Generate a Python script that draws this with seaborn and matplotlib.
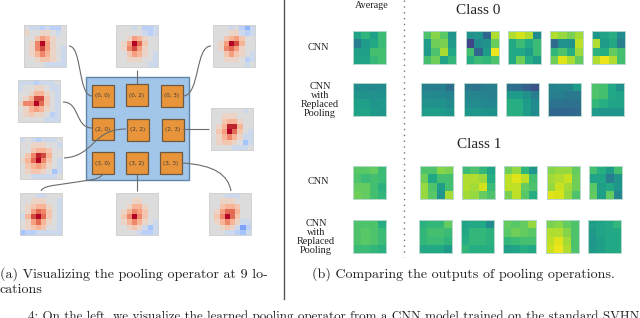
import matplotlib
matplotlib.use('Agg')
import matplotlib.pyplot as plt
from matplotlib.patches import PathPatch, Rectangle
from matplotlib.path import Path
import seaborn as sns

W, H = 640, 318

# pooling operator maps, 8x8, scale -10..10
op_0 = [[0,-1,-1,-2,-1,-2,-2,0],[1,0,0,1,1,0,-1,0],[0,0,2,4,3,1,0,0],[0,1,5,10,4,1,0,0],
        [0,1,5,7,4,1,0,-1],[0,1,3,5,3,1,0,-1],[0,0,1,2,2,1,0,-1],[0,0,0,0,-1,-1,-1,-1]]
op_1 = [[0,0,0,-1,0,-2,-2,-1],[0,0,0,0,0,-1,-2,-1],[0,0,1,4,3,1,0,0],[0,1,4,10,6,2,0,0],
        [0,1,5,7,4,1,0,0],[0,0,2,4,3,1,0,-1],[0,0,1,1,1,0,0,-1],[0,0,0,0,0,0,-1,-1]]
op_2 = [[0,0,0,-1,0,-2,-4,-1],[0,0,0,1,1,-1,-2,-1],[0,0,2,3,4,2,0,0],[0,1,4,10,7,3,0,0],
        [0,1,5,6,4,1,0,0],[0,0,2,4,2,1,0,-1],[0,0,1,1,1,0,-2,-1],[0,0,0,0,0,0,-1,0]]
op_3 = [[-1,-1,-1,-2,-1,-1,-1,0],[-1,0,0,1,1,0,-1,-1],[0,0,1,3,3,1,0,-1],[0,1,3,7,7,2,0,-1],
        [1,5,5,10,6,2,0,-1],[0,1,3,4,3,1,0,-1],[0,1,2,1,1,0,-2,-1],[0,0,0,0,0,-1,-1,-1]]
op_4 = [[0,0,0,0,0,0,-1,0],[0,0,1,1,1,0,0,0],[0,0,2,3,3,1,0,0],[0,1,3,8,8,3,0,0],
        [0,2,4,10,6,2,0,-1],[0,1,3,5,3,1,-1,-1],[0,1,2,2,1,0,-3,-1],[0,0,0,0,-1,-1,-1,0]]
op_5 = [[-1,0,-1,-2,-1,-1,-1,0],[0,0,1,1,1,0,0,-1],[0,0,2,3,3,2,0,0],[0,2,5,8,7,3,0,0],
        [1,3,6,10,5,2,0,-1],[0,2,3,4,3,1,0,-1],[0,1,2,2,1,0,-3,-1],[0,0,-1,-1,-1,-1,-1,0]]
op_6 = [[0,0,0,-1,-1,0,0,0],[0,0,1,1,1,0,0,-1],[0,1,2,3,3,1,0,-1],[0,1,4,6,5,2,0,-1],
        [-1,3,7,10,6,2,0,-1],[0,1,4,6,3,1,0,-1],[0,1,2,3,2,0,0,-1],[-3,-2,-2,-1,-1,-1,-1,-1]]
op_7 = [[0,0,0,0,0,0,0,0],[0,0,0,1,1,0,0,0],[0,0,1,3,3,1,0,0],[0,1,3,5,4,2,0,0],
        [0,2,5,10,5,2,0,0],[0,1,3,5,3,1,0,-1],[0,0,1,2,1,-1,-3,-1],[0,0,0,0,-1,-2,-2,-1]]
op_8 = [[0,0,0,-1,-1,-1,0,0],[0,0,1,1,1,0,0,0],[0,0,2,3,3,2,0,0],[0,1,4,6,6,3,0,0],
        [0,2,5,10,6,2,0,0],[0,1,3,5,3,1,-1,-1],[0,0,1,2,1,-1,-5,-2],[0,0,0,-1,-1,-2,-3,-1]]
op_maps = [op_0, op_1, op_2, op_3, op_4, op_5, op_6, op_7, op_8]

op_boxes = [(24, 25), (116, 25), (213, 25), (18, 80), (211, 108),
            (20, 137), (20, 193), (116, 193), (209, 193)]

cell_labels = ['(0, 0)', '(0, 2)', '(0, 3)', '(2, 0)', '(2, 2)', '(2, 3)', '(3, 0)', '(3, 2)', '(3, 3)']
cell_boxes = [(92, 85), (126, 84), (161, 85), (92, 118), (127, 119), (162, 119),
              (92, 152), (126, 152), (160, 152)]

# class 0 outputs
c0_cnn_avg = [[.58,.65,.57,.68],[.42,.55,.6,.68],[.56,.56,.7,.7],[.58,.58,.67,.7]]
c0_cnn_1 = [[.72,.82,.74,.52],[.55,.78,.8,.55],[.54,.72,.87,.6],[.7,.78,.58,.66]]
c0_cnn_2 = [[.5,.52,.33,.88],[.2,.48,.5,.77],[.7,.33,.55,.98],[.62,.68,.66,.72]]
c0_cnn_3 = [[.88,.93,.88,.48],[.6,.68,.6,.68],[.6,.6,.55,.68],[.6,.78,.62,.55]]
c0_cnn_4 = [[.88,.84,.8,.86],[.35,.5,.5,.9],[.66,.72,.62,.85],[.78,.95,.87,.76]]
c0_cnn_5 = [[.52,.58,.62,.48],[.88,.55,.6,.42],[.64,.62,.76,.7],[.88,.97,.88,.7]]

c0_rep_avg = [[.48,.48,.47,.48],[.52,.5,.5,.5],[.56,.56,.52,.54],[.58,.58,.54,.52]]
c0_rep_1 = [[.43,.42,.43,.36],[.47,.47,.46,.44],[.5,.5,.5,.48],[.55,.56,.55,.52]]
c0_rep_2 = [[.4,.38,.42,.43],[.45,.45,.44,.43],[.48,.48,.46,.46],[.53,.53,.5,.5]]
c0_rep_3 = [[.37,.35,.3,.25],[.55,.55,.5,.42],[.62,.62,.55,.48],[.63,.62,.55,.48]]
c0_rep_4 = [[.43,.45,.45,.55],[.42,.42,.4,.4],[.38,.38,.37,.37],[.33,.33,.33,.34]]
c0_rep_5 = [[.72,.7,.6,.5],[.72,.7,.6,.58],[.66,.62,.58,.58],[.55,.52,.52,.52]]

# class 1 outputs
c1_cnn_avg = [[.74,.74,.76,.68],[.72,.68,.7,.68],[.76,.76,.7,.64],[.78,.76,.7,.66]]
c1_cnn_1 = [[.72,.72,.82,.8],[.78,.6,.7,.7],[.84,.72,.56,.7],[.84,.74,.52,.87]]
c1_cnn_2 = [[.68,.72,.66,.58],[.88,.88,.85,.62],[.88,.86,.93,.68],[.86,.84,.76,.72]]
c1_cnn_3 = [[.78,.84,.66,.52],[.9,.95,.9,.7],[.9,.9,.76,.72],[.8,.9,.74,.62]]
c1_cnn_4 = [[.82,.84,.84,.76],[.86,.88,.92,.78],[.84,.92,.86,.78],[.95,.94,.84,.72]]
c1_cnn_5 = [[.7,.62,.55,.7],[.58,.58,.42,.52],[.74,.56,.6,.52],[.76,.56,.76,.46]]

c1_rep_avg = [[.72,.72,.72,.62],[.72,.74,.72,.68],[.72,.74,.72,.68],[.68,.68,.66,.64]]
c1_rep_1 = [[.64,.66,.66,.76],[.66,.7,.7,.68],[.66,.68,.68,.65],[.6,.6,.6,.55]]
c1_rep_2 = [[.58,.6,.6,.48],[.6,.66,.66,.64],[.62,.66,.66,.64],[.66,.62,.62,.62]]
c1_rep_3 = [[.76,.74,.76,.84],[.74,.78,.76,.74],[.66,.68,.7,.7],[.56,.58,.62,.6]]
c1_rep_4 = [[.8,.82,.76,.72],[.88,.88,.82,.72],[.9,.95,.86,.72],[.92,.97,.88,.72]]
c1_rep_5 = [[.56,.58,.6,.66],[.54,.58,.6,.6],[.52,.56,.6,.6],[.54,.56,.6,.6]]

rows = [
    (31, [353, 423, 466, 508, 550, 592], [c0_cnn_avg, c0_cnn_1, c0_cnn_2, c0_cnn_3, c0_cnn_4, c0_cnn_5]),
    (83, [353, 421, 464, 506, 548, 591], [c0_rep_avg, c0_rep_1, c0_rep_2, c0_rep_3, c0_rep_4, c0_rep_5]),
    (166, [353, 420, 462, 504, 547, 589], [c1_cnn_avg, c1_cnn_1, c1_cnn_2, c1_cnn_3, c1_cnn_4, c1_cnn_5]),
    (220, [353, 419, 461, 503, 546, 588], [c1_rep_avg, c1_rep_1, c1_rep_2, c1_rep_3, c1_rep_4, c1_rep_5]),
]

fig = plt.figure(figsize=(W / 100, H / 100), dpi=100)

# full-figure axes in pixel coordinates, y going down
bg = fig.add_axes([0, 0, 1, 1])
bg.set_xlim(0, W)
bg.set_ylim(H, 0)
bg.axis('off')


def px_axes(x, y, size):
    return fig.add_axes([x / W, 1 - (y + size) / H, size / W, size / H])


def heat(data, x, y, size, cmap, vmin, vmax, edge):
    ax = px_axes(x, y, size)
    sns.heatmap(data, ax=ax, cmap=cmap, vmin=vmin, vmax=vmax, cbar=False,
                xticklabels=False, yticklabels=False, square=False)
    for s in ax.spines.values():
        s.set_visible(True)
        s.set_color(edge)
        s.set_linewidth(0.7)
    return ax


for data, (x, y) in zip(op_maps, op_boxes):
    heat(data, x, y, 42, 'coolwarm', -8.5, 8.5, '#d2d2d2')

for y, xs, grids in rows:
    for x, data in zip(xs, grids):
        heat(data, x, y, 33, 'viridis', 0, 1, '#b5d8cc')

# blue block with the orange cells
bg.add_patch(Rectangle((86, 77), 103, 103, fc='#a2c6ea', ec='#5f86a8', lw=1, zorder=1))
for label, (x, y) in zip(cell_labels, cell_boxes):
    bg.add_patch(Rectangle((x, y), 21.5, 21.5, fc='#e8943a', ec='#6e5a40', lw=0.9, zorder=2))
    bg.text(x + 10.75, y + 11, label, ha='center', va='center', fontsize=4.1, color='#3a3a3a', zorder=3)

# connectors
C = Path.CURVE4
curves = [
    ([(69, 46), (82, 46), (78, 96), (92, 96)], [Path.MOVETO, C, C, C]),
    ([(211, 46), (195, 46), (200, 96), (183, 96)], [Path.MOVETO, C, C, C]),
    ([(63, 102), (80, 102), (75, 128), (92, 128)], [Path.MOVETO, C, C, C]),
    ([(64, 158), (95, 156), (92, 129), (126, 129)], [Path.MOVETO, C, C, C]),
    ([(41, 191), (43, 185), (60, 185), (90, 180), (96, 179), (100, 178), (103, 174)],
     [Path.MOVETO, C, C, C, C, C, C]),
    ([(182, 163), (215, 165), (228, 175), (231, 191)], [Path.MOVETO, C, C, C]),
    ([(137, 70), (137, 84)], [Path.MOVETO, Path.LINETO]),
    ([(183, 129), (209, 129)], [Path.MOVETO, Path.LINETO]),
    ([(137, 174), (137, 191)], [Path.MOVETO, Path.LINETO]),
]
for verts, codes in curves:
    bg.add_patch(PathPatch(Path(verts, codes), fc='none', ec='#6a6a6a', lw=0.8, zorder=4))

# dividers
bg.plot([284, 284], [0, 299], color='#555555', lw=1.0, zorder=1)
bg.plot([404, 404], [0, 257], color='#777777', lw=1.0, ls=(0, (1, 3.2)), zorder=1)

# labels on the right
serif = 'Liberation Serif'
bg.text(372, 5, 'Average', ha='center', va='center', family=serif, fontsize=7.3, color='#222222')
bg.text(478, 11, 'Class 0', ha='center', va='center', family=serif, fontsize=11, color='#222222')
bg.text(479, 145, 'Class 1', ha='center', va='center', family=serif, fontsize=11, color='#222222')
for y in (47, 182):
    bg.text(318, y, 'CNN', ha='center', va='center', family=serif, fontsize=7.3, color='#222222')
for x, y in ((320, 100), (316, 237)):
    bg.text(x, y, 'CNN\nwith\nReplaced\nPooling', ha='center', va='center', family=serif,
            fontsize=7.4, color='#222222', linespacing=1.0)

# captions
cm = 'cmr10'
bg.text(0, 274, '(a) Visualizing the pooling operator at 9 lo-', va='center', family=cm, fontsize=10.1, color='#222222')
bg.text(0, 290, 'cations', va='center', family=cm, fontsize=10.1, color='#222222')
bg.text(312, 274, '(b) Comparing the outputs of pooling operations.', va='center', family=cm, fontsize=10.1, color='#222222')
bg.text(639, 317, '4: On the left, we visualize the learned pooling operator from a CNN model trained on the standard SVHN',
        ha='right', va='center', family=cm, fontsize=9.4, color='#222222')

fig.savefig('out.png', dpi=100)
